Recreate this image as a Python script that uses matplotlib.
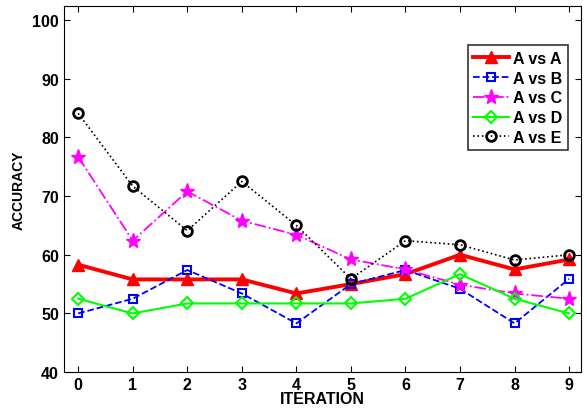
import matplotlib

matplotlib.use("Agg")
import matplotlib.pyplot as plt

plt.rcParams["font.family"] = ["Liberation Sans", "DejaVu Sans"]
plt.rcParams["font.weight"] = "bold"

iterations = list(range(10))
a_vs_a = [58.3, 55.8, 55.8, 55.8, 53.4, 55.0, 56.7, 60.0, 57.5, 59.2]
a_vs_b = [50.0, 52.5, 57.4, 53.4, 48.3, 55.0, 57.4, 54.2, 48.3, 55.9]
a_vs_c = [76.7, 62.4, 70.8, 65.8, 63.4, 59.2, 57.5, 54.9, 53.4, 52.5]
a_vs_d = [52.5, 50.0, 51.7, 51.7, 51.7, 51.7, 52.5, 56.7, 52.5, 50.0]
a_vs_e = [84.1, 71.7, 64.1, 72.5, 65.0, 55.9, 62.4, 61.7, 59.1, 60.0]

fig = plt.figure(figsize=(5.87, 4.10), dpi=100)
ax = fig.add_axes([0.109, 0.090, 0.881, 0.893])

ax.plot(iterations, a_vs_a, "-", color="red", lw=2.8, marker="^", ms=8,
        mfc="red", mec="red", label="A vs A")
ax.plot(iterations, a_vs_b, "--", color="blue", lw=1.3, marker="s", ms=6,
        mfc="none", mec="blue", mew=1.5, label="A vs B")
ax.plot(iterations, a_vs_c, "-.", color="magenta", lw=1.3, marker="*", ms=11,
        mfc="magenta", mec="magenta", label="A vs C")
ax.plot(iterations, a_vs_d, "-", color="#00ff00", lw=1.5, marker="D", ms=6.5,
        mfc="none", mec="#00ff00", mew=1.5, label="A vs D")
ax.plot(iterations, a_vs_e, ":", color="black", lw=1.2, marker="o", ms=7,
        mfc="none", mec="black", mew=2, label="A vs E")

ax.set_xlim(-0.26, 9.22)
ax.set_ylim(40, 102.4)
ax.set_xticks(iterations)
ax.set_yticks(range(40, 101, 10))
ax.tick_params(direction="in", top=True, right=True, labelsize=11.5, length=4)
for lbl in ax.get_xticklabels() + ax.get_yticklabels():
    lbl.set_fontweight("bold")
ax.set_xlabel("ITERATION", fontsize=11.5, fontweight="bold", labelpad=-1)
ax.set_ylabel("ACCURACY", fontsize=10, fontweight="bold", labelpad=5)

leg = ax.legend(loc="upper right", bbox_to_anchor=(0.975, 0.893), fontsize=11.5,
                frameon=True, fancybox=False, handlelength=2.2,
                handletextpad=0.3, borderpad=0.35, labelspacing=0.3,
                borderaxespad=0)
leg.get_frame().set_edgecolor("black")
leg.get_frame().set_linewidth(1.2)
for t in leg.get_texts():
    t.set_fontweight("bold")

fig.savefig("out.png", dpi=100)
